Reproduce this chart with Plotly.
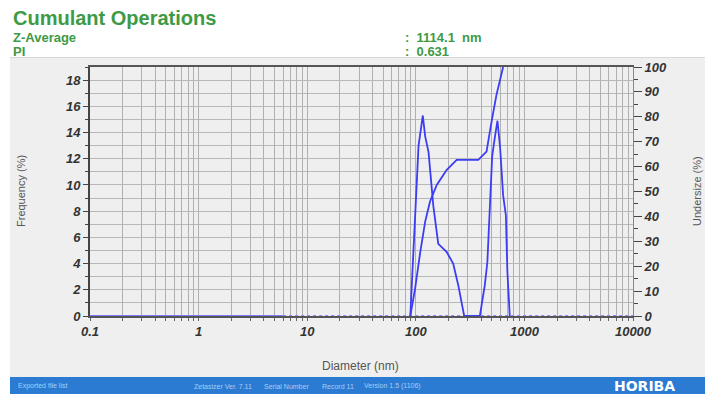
import plotly.graph_objects as go

# ---------------- data ----------------
freq_d = [89, 93, 98.6, 106, 112, 116, 122, 131, 145, 161, 192, 221, 246, 279,
          389, 432, 456, 481, 505, 536, 565, 598, 637, 675, 697, 733]
freq_v = [0, 3.2, 6.7, 13.0, 14.4, 15.3, 13.7, 12.5, 8.4, 5.5, 4.9, 4.0, 2.35, 0,
          0, 2.35, 4.1, 8.4, 12.2, 13.7, 14.9, 12.8, 9.2, 7.7, 3.4, 0]

cum_d = [89, 98.6, 110, 122, 135, 156, 192, 238, 376, 448, 498, 553, 637]
cum_v = [0, 11.1, 25.8, 37.9, 45.9, 52.6, 58.6, 62.7, 62.7, 66.0, 78.0, 88.8, 100]

base_solid_d = [0.1, 6]
base_solid_v = [0, 0]
base_dot_d = [6, 10000]
base_dot_v = [0, 0]

decades = [0.1, 1, 10, 100, 1000]
x_tick_vals = [k * d for d in decades for k in range(1, 10)] + [10000]
x_tick_text = [("%g" % (k * d)) if k == 1 else "" for d in decades for k in range(1, 10)] + ["10000"]

header_labels = ["Z-Average", "PI"]
header_values = [":  1114.1  nm", ":  0.631"]
footer_texts = ["Exported file list", "Zetasizer Ver. 7.11", "Serial Number", "Record 11",
                "Version 1.5 (1106)"]

# ---------------- figure ----------------
W, H = 705, 394
L, R, T, B = 90, 633, 67, 316
pw, ph = R - L, B - T


def px(x):
    return (x - L) / pw


def py(y):
    return (B - y) / ph


blue = "#3c3cf5"
green = "#3d9a45"
tickfont = dict(family="Liberation Sans", size=13, color="#333333",
                weight="bold", style="italic")

fig = go.Figure()
fig.add_trace(go.Scatter(x=base_solid_d, y=base_solid_v, mode="lines",
                         line=dict(color="#7a7aff", width=2), yaxis="y"))
fig.add_trace(go.Scatter(x=base_dot_d, y=base_dot_v, mode="lines",
                         line=dict(color="#8a8aff", width=2, dash="dot"), yaxis="y"))
fig.add_trace(go.Scatter(x=freq_d, y=freq_v, mode="lines",
                         line=dict(color=blue, width=1.8), yaxis="y"))
fig.add_trace(go.Scatter(x=cum_d, y=cum_v, mode="lines",
                         line=dict(color=blue, width=1.8), yaxis="y2"))

shapes = [
    dict(type="rect", xref="paper", yref="paper", x0=px(10), x1=px(706),
         y0=py(378), y1=py(57), fillcolor="#efefef", line=dict(width=0),
         layer="below"),
    dict(type="line", xref="paper", yref="paper", x0=px(10), x1=px(706),
         y0=py(57.5), y1=py(57.5), line=dict(color="#d8d8d8", width=1),
         layer="below"),
    dict(type="rect", xref="paper", yref="paper", x0=px(10), x1=px(706),
         y0=py(395), y1=py(377), fillcolor="#2b7bd3", line=dict(width=0),
         layer="below"),
]


def note(text, x, y, size, color, xanchor="left", angle=0, family="Liberation Sans"):
    return dict(text=text, x=px(x), y=py(y), xref="paper", yref="paper",
                xanchor=xanchor, yanchor="middle", showarrow=False, textangle=angle,
                font=dict(family=family, size=size, color=color))


ann = [note("<b>Cumulant Operations</b>", 11, 18, 20, green)]
for i, (lab, val) in enumerate(zip(header_labels, header_values)):
    yy = 37 + 14.5 * i
    ann.append(note("<b>%s</b>" % lab, 11, yy, 13, green))
    ann.append(note("<b>%s</b>" % val, 403, yy, 13, green))
ann.append(note("Frequency (%)", 21, 191, 11, "#555555", xanchor="center", angle=-90))
ann.append(note("Undersize (%)", 697, 191, 11, "#555555", xanchor="center", angle=-90))
ann.append(note("Diameter (nm)", 360, 366, 12, "#555555", xanchor="center"))
ann.append(note("<b>HORIBA</b>", 612, 385.5, 14, "white", family="DejaVu Sans"))
for txt, xx in zip(footer_texts, [16, 192, 262, 320, 362]):
    ann.append(note(txt, xx, 386, 7, "#a9cdf2"))

fig.update_layout(
    width=W, height=H,
    margin=dict(l=L, r=W - R, t=T, b=H - B, pad=0),
    paper_bgcolor="white", plot_bgcolor="white",
    showlegend=False,
    shapes=shapes, annotations=ann,
    xaxis=dict(type="log", range=[-1, 4], tickmode="array",
               tickvals=x_tick_vals, ticktext=x_tick_text,
               showgrid=True, gridcolor="#b0b0b0", gridwidth=1,
               ticks="outside", ticklen=3, tickcolor="#666",
               showline=True, mirror=True, linecolor="#555", linewidth=1.5,
               tickfont=tickfont, zeroline=False),
    yaxis=dict(range=[0, 19], tick0=0, dtick=2, ticks="outside", ticklen=5,
               tickcolor="#444", showgrid=True, gridcolor="#b8b8b8", gridwidth=1,
               minor=dict(dtick=1, showgrid=True, gridcolor="#b8b8b8",
                          ticks="outside", ticklen=3, tickcolor="#444"),
               showline=True, linecolor="#444", linewidth=2,
               tickfont=tickfont, zeroline=False),
    yaxis2=dict(range=[0, 100], overlaying="y", side="right", tick0=0, dtick=10,
                ticks="outside", ticklen=8, tickcolor="#444", showgrid=False,
                minor=dict(dtick=5, ticks="outside", ticklen=4, tickcolor="#444"),
                showline=True, linecolor="#888", linewidth=1,
                tickfont=tickfont, zeroline=False),
)

fig.write_html("out.html")
